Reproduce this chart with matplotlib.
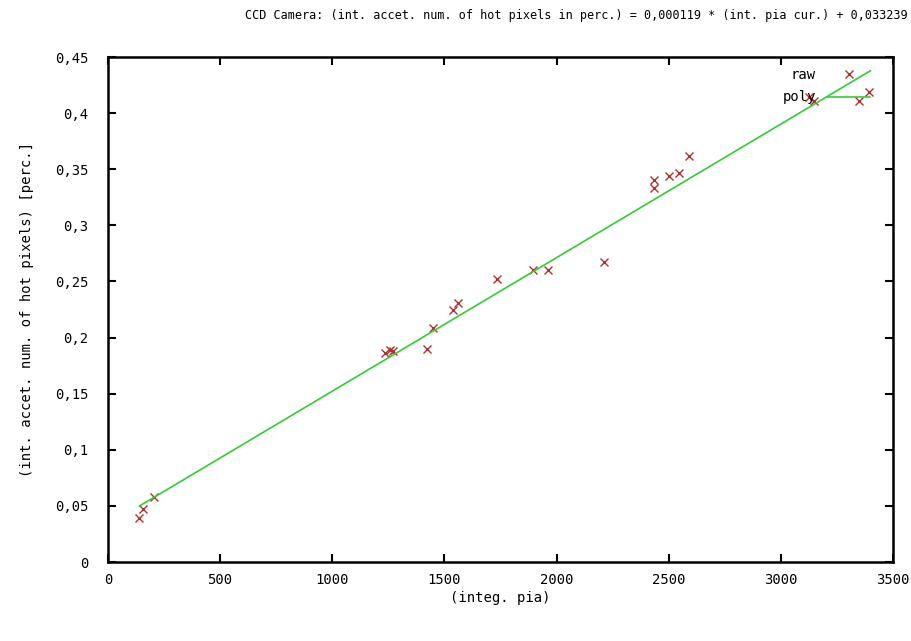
#!/usr/bin/env python3
# plot.py - hot pixel fraction vs integrated pia, with linear fit

import numpy as np
import matplotlib.pyplot as plt
from matplotlib.ticker import FuncFormatter

# measured points (raw)
pia = [138, 156, 205, 1235, 1257, 1271, 1422, 1449, 1538, 1560,
       1734, 1895, 1962, 2211, 2434, 2434, 2501, 2546, 2590,
       3125, 3150, 3348, 3393]
hot = [0.039, 0.047, 0.058, 0.186, 0.189, 0.188, 0.190, 0.2086, 0.2246, 0.231,
       0.252, 0.260, 0.260, 0.267, 0.333, 0.340, 0.344, 0.347, 0.362,
       0.414, 0.411, 0.411, 0.419]

# fit coefficients and range
slope = 0.000119
offset = 0.033239
fit_x = [140, 3400]

x_ticks = [0, 500, 1000, 1500, 2000, 2500, 3000, 3500]
y_ticks = [0, 0.05, 0.1, 0.15, 0.2, 0.25, 0.3, 0.35, 0.4, 0.45]

FONT = "DejaVu Sans Mono"


def comma_fmt(v, pos):
    return ("%g" % round(v, 4)).replace(".", ",")


fig = plt.figure(figsize=(9.12, 6.41), dpi=100)
ax = fig.add_axes([0.1184, 0.1232, 0.8607, 0.7878])

fx = np.array(fit_x, dtype=float)
ax.plot(pia, hot, linestyle="none", marker="x", color="#b03030",
        markersize=6, markeredgewidth=1.0, label="raw")
ax.plot(fx, slope * fx + offset, color="#33cc33", linewidth=1.2, label="poly")

ax.set_xlim(0, 3500)
ax.set_ylim(0, 0.45)
ax.set_xticks(x_ticks)
ax.set_yticks(y_ticks)
ax.yaxis.set_major_formatter(FuncFormatter(comma_fmt))
ax.tick_params(direction="in", length=6, width=1.5, top=True, right=True,
               labelsize=10)
ax.tick_params(axis="y", pad=14)
ax.tick_params(axis="x", pad=8)
for lab in ax.get_xticklabels() + ax.get_yticklabels():
    lab.set_family(FONT)
for sp in ax.spines.values():
    sp.set_linewidth(1.8)

ax.set_xlabel("(integ. pia)", family=FONT, fontsize=10, labelpad=3)
ax.set_ylabel("(int. accet. num. of hot pixels) [perc.]", family=FONT,
              fontsize=10, labelpad=15)
fig.text(0.995, 1 - 16 / 641,
         "CCD Camera: (int. accet. num. of hot pixels in perc.) = "
         "0,000119 * (int. pia cur.) + 0,033239",
         family=FONT, fontsize=8.5, ha="right", va="center")

leg = ax.legend(loc="upper right", bbox_to_anchor=(0.985, 1.0),
                frameon=False, markerfirst=False,
                handlelength=3.1, borderaxespad=0.4, labelspacing=0.6,
                prop={"family": FONT, "size": 10})

fig.savefig("out.png", dpi=100)
